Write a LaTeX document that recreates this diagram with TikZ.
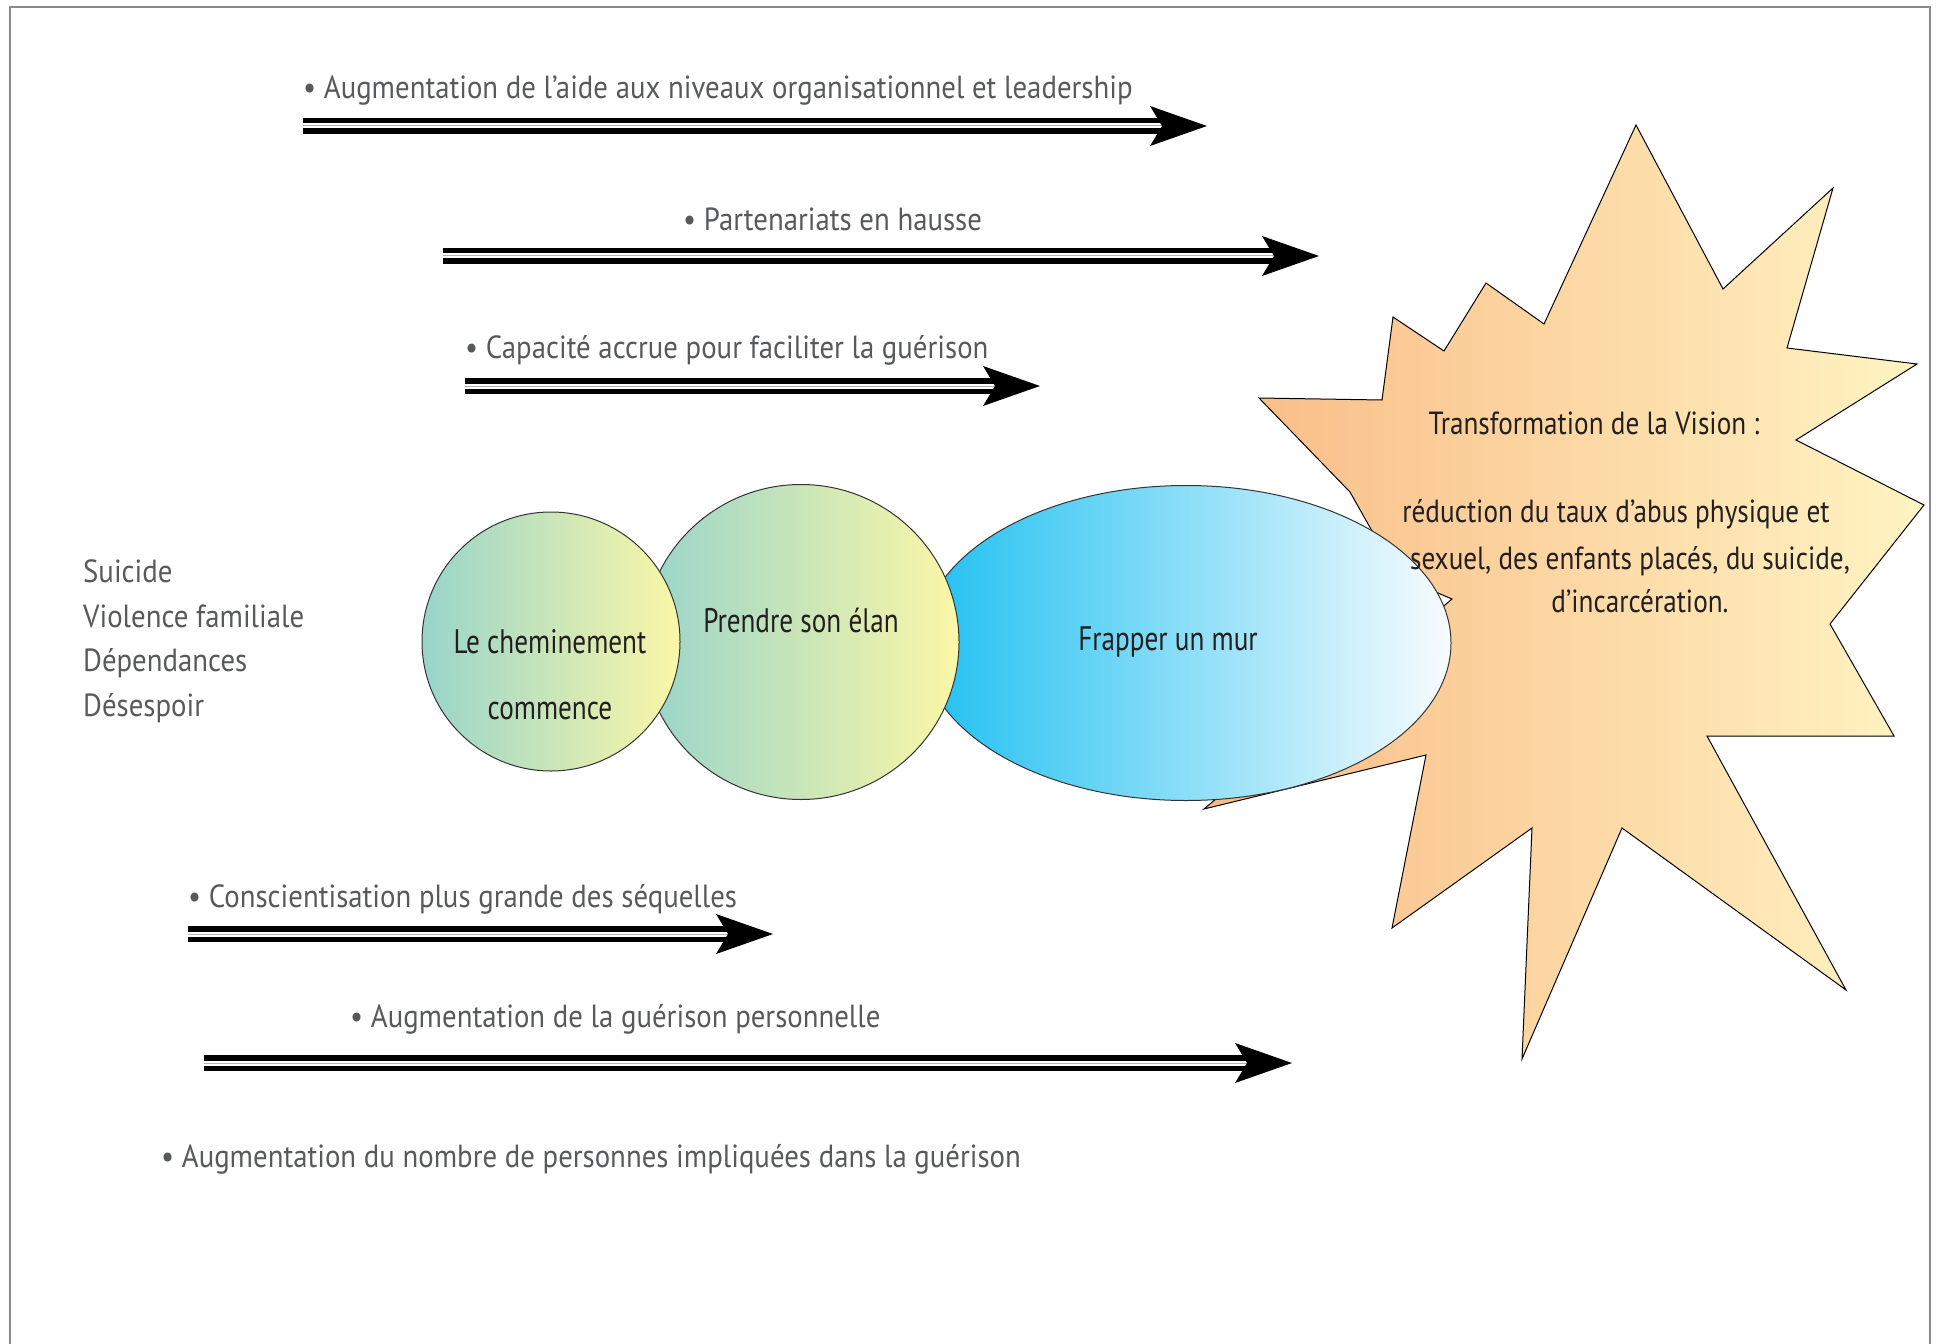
\documentclass[tikz,border=0pt]{standalone}
\usepackage{fontspec}
\setmainfont{PT Sans}[FakeStretch=0.9]
\newfontfamily\circfont{PT Sans}[FakeStretch=0.8]
\newfontfamily\visfont{PT Sans}[FakeStretch=0.85]
\usetikzlibrary{shapes.geometric}
\definecolor{lbl}{HTML}{58595B}
\definecolor{ink}{HTML}{231F20}
\definecolor{tealL}{HTML}{98D4CB}
\definecolor{yelR}{HTML}{FBF7A6}
\definecolor{cyanL}{HTML}{1FC0F1}
\definecolor{whiteR}{HTML}{F8FCFE}
\definecolor{orL}{HTML}{F9BA84}
\definecolor{yeR}{HTML}{FFF4C3}
\definecolor{framec}{HTML}{8A8A8A}
\newcommand\dblarrow[2]{%
  \draw[line width=16bp, black] (#1) -- ([xshift=-45bp]#2);
  \draw[line width=5bp, white] (#1) -- ([xshift=-45bp]#2);
  \draw[line width=1bp, gray!60] (#1) -- ([xshift=-45bp]#2);
  \fill[black] (#2) -- ++(-57,-20) -- ++(12,20) -- ++(-12,20) -- cycle;}
\tikzset{
  lbltext/.style={text=lbl, font=\fontsize{32bp}{38bp}\selectfont, inner sep=0, anchor=base west},
  circtext/.style={text=ink, font=\circfont\fontsize{34bp}{40bp}\selectfont, inner sep=0, anchor=base},
  vistext/.style={text=ink, font=\visfont\fontsize{32bp}{38bp}\selectfont, inner sep=0, anchor=base},
  bubble/.style={ellipse, draw=black!80, line width=1bp, inner sep=0},
}
\begin{document}
\begin{tikzpicture}[x=1bp, y=-1bp]
\useasboundingbox (0,0) rectangle (1939,1344);
% frame
\draw[framec, line width=2.5bp] (10,1344) -- (10,7) -- (1930,7) -- (1930,1344);

% starburst
\shadedraw[left color=orL, right color=yeR, draw=black, line width=1bp]
  (1636,125) -- (1723,289) -- (1833,188) -- (1787,348) -- (1917,364) -- (1796,440)
  -- (1924,505) -- (1830,624) -- (1894,736) -- (1707,736) -- (1846,990) -- (1622,828)
  -- (1522,1059) -- (1532,828) -- (1392,928) -- (1426,755) -- (1204,809)
  -- (1452,599) -- (1405,579) -- (1372,531) -- (1350,492) -- (1259,398)
  -- (1382,400) -- (1393,317) -- (1444,351) -- (1486,283) -- (1544,324) -- cycle;

% bubbles
\node[bubble, left color=cyanL, right color=whiteR, minimum width=530bp, minimum height=315bp] (wall) at (1186,643) {};
\node[bubble, left color=tealL, right color=yelR, minimum width=316bp, minimum height=315bp] (elan) at (801,642) {};
\node[bubble, left color=tealL, right color=yelR, minimum width=258bp, minimum height=259bp] (start) at (551,641.5) {};

\node[circtext] (t1a) at (550,653) {Le cheminement};
\node[circtext] (t1b) at (550,719) {commence};
\node[circtext] (t2) at (801,632) {Prendre son élan};
\node[circtext] (t3) at (1168,650) {Frapper un mur};

% vision text
\node[vistext] (v1) at (1594,434) {Transformation de la Vision :};
\node[vistext] (v2) at (1616,522) {réduction du taux d’abus physique et};
\node[vistext] (v3) at (1630,569) {sexuel, des enfants placés, du suicide,};
\node[vistext] (v4) at (1640,612) {d’incarcération.};

% left list
\node[lbltext] (s1) at (83,582) {Suicide};
\node[lbltext] (s2) at (83,627) {Violence familiale};
\node[lbltext] (s3) at (83,671) {Dépendances};
\node[lbltext] (s4) at (83,716) {Désespoir};

% arrows
\coordinate (a1s) at (303,126); \coordinate (a1e) at (1207,126);
\coordinate (a2s) at (443,256); \coordinate (a2e) at (1319,256);
\coordinate (a3s) at (465,386); \coordinate (a3e) at (1040,386);
\coordinate (a4s) at (188,934); \coordinate (a4e) at (773,934);
\coordinate (a5s) at (204,1063); \coordinate (a5e) at (1292,1063);
\dblarrow{a1s}{a1e}
\dblarrow{a2s}{a2e}
\dblarrow{a3s}{a3e}
\dblarrow{a4s}{a4e}
\dblarrow{a5s}{a5e}

\node[lbltext] (l1) at (303,99) {• Augmentation de l’aide aux niveaux organisationnel et leadership};
\node[lbltext] (l2) at (683,231) {• Partenariats en hausse};
\node[lbltext] (l3) at (465,359) {• Capacité accrue pour faciliter la guérison};
\node[lbltext] (l4) at (188,907) {• Conscientisation plus grande des séquelles};
\node[lbltext] (l5) at (350,1027) {• Augmentation de la guérison personnelle};
\node[lbltext] (l6) at (161,1167) {• Augmentation du nombre de personnes impliquées dans la guérison};
\end{tikzpicture}
\end{document}
